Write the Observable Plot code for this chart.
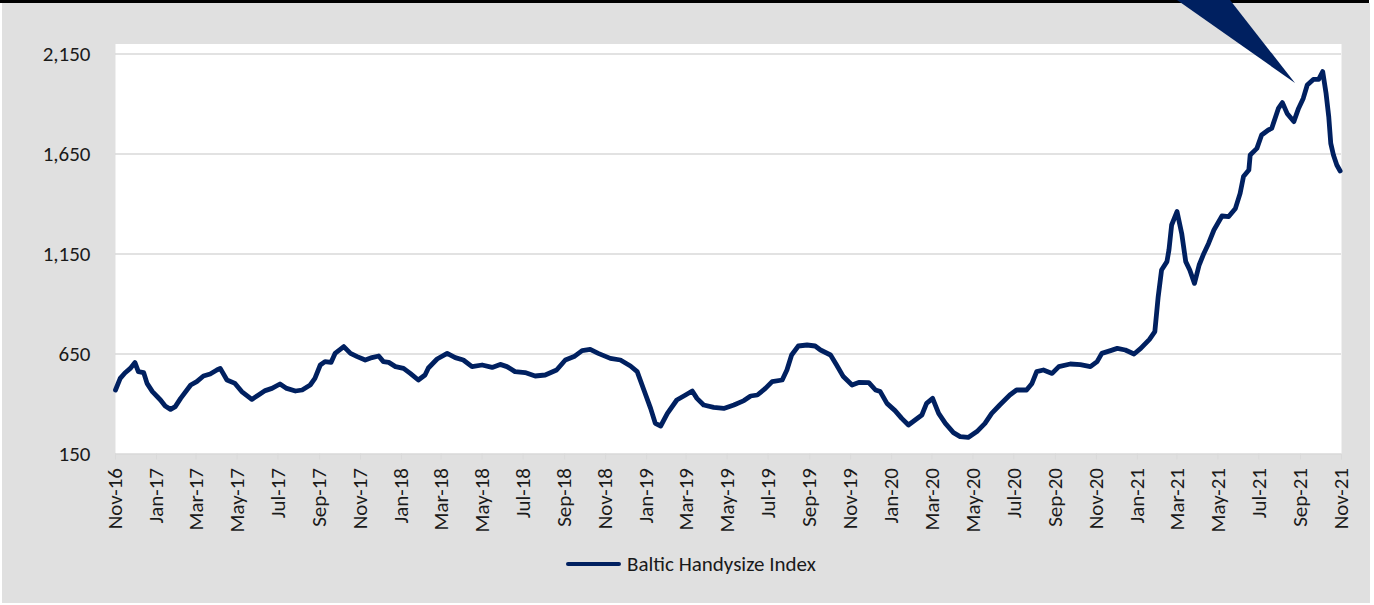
<!DOCTYPE html>
<html>
<head>
<meta charset="utf-8">
<script src="https://cdn.jsdelivr.net/npm/d3@7"></script>
<script src="https://cdn.jsdelivr.net/npm/@observablehq/plot@0.6"></script>
<style>
  html, body { margin: 0; padding: 0; background: #ffffff; }
  #wrap { position: relative; width: 1374px; height: 605px; overflow: hidden; font-family: Carlito, Calibri, Lato, sans-serif; }
  #bg { position: absolute; left: 2px; top: 3px; width: 1368px; height: 600px; background: #e0e0e0; }
  #topline { position: absolute; left: 0; top: 0; width: 1369px; height: 3px; background: #000; }
  #chart { position: absolute; left: 0; top: 0; }
  #callout { position: absolute; left: 0; top: 0; }
  #legend { position: absolute; left: 566px; top: 550px; height: 28px; display: flex; align-items: center; font-size: 21px; color: #1a1a1a; }
  #legend .sw { width: 55px; height: 4.5px; border-radius: 3px; background: #002060; margin-right: 6px; }
</style>
</head>
<body>
<div id="wrap">
  <div id="bg"></div>
  <div id="topline"></div>
  <div id="chart"></div>
  <svg id="callout" width="1374" height="120"><polygon points="1177,0 1230,0 1295,83" fill="#002060"></polygon></svg>
  <div id="legend"><div class="sw"></div><span>Baltic Handysize Index</span></div>
</div>
<script>
const seriesName = "Baltic Handysize Index";

const dates = [
"2016-11-01","2016-11-08","2016-11-15","2016-11-23","2016-11-30","2016-12-05","2016-12-13","2016-12-18","2016-12-26",
"2017-01-07","2017-01-14","2017-01-22","2017-01-29","2017-02-06","2017-02-21","2017-03-02","2017-03-12","2017-03-22",
"2017-04-01","2017-04-06","2017-04-16","2017-04-28","2017-05-08","2017-05-23","2017-06-02","2017-06-12","2017-06-22",
"2017-07-04","2017-07-14","2017-07-27","2017-08-06","2017-08-18","2017-08-25","2017-09-02","2017-09-09","2017-09-18",
"2017-09-24","2017-10-07","2017-10-17","2017-10-27","2017-11-08","2017-11-18","2017-11-28","2017-12-05","2017-12-13",
"2017-12-23","2018-01-04","2018-01-14","2018-01-26","2018-02-05","2018-02-10","2018-02-23","2018-03-10","2018-03-22",
"2018-04-03","2018-04-16","2018-05-01","2018-05-16","2018-05-28","2018-06-07","2018-06-19","2018-07-04","2018-07-19",
"2018-08-03","2018-08-20","2018-09-02","2018-09-15","2018-09-27","2018-10-09","2018-10-21","2018-11-08","2018-11-23",
"2018-12-08","2018-12-18","2018-12-28","2019-01-07","2019-01-14","2019-01-22","2019-02-01","2019-02-15","2019-02-28",
"2019-03-10","2019-03-17","2019-03-27","2019-04-11","2019-04-26","2019-05-11","2019-05-26","2019-06-05","2019-06-15",
"2019-06-27","2019-07-07","2019-07-22","2019-07-29","2019-08-05","2019-08-15","2019-08-28","2019-09-09","2019-09-17",
"2019-10-02","2019-10-11","2019-10-21","2019-11-03","2019-11-13","2019-11-28","2019-12-08","2019-12-15","2019-12-25",
"2020-01-06","2020-01-16","2020-01-26","2020-02-05","2020-02-15","2020-02-22","2020-03-02","2020-03-11","2020-03-21",
"2020-04-02","2020-04-12","2020-04-24","2020-05-07","2020-05-19","2020-05-29","2020-06-10","2020-06-25","2020-07-05",
"2020-07-20","2020-07-28","2020-08-04","2020-08-14","2020-08-27","2020-09-06","2020-09-23","2020-10-08","2020-10-23",
"2020-11-02","2020-11-09","2020-11-22","2020-12-02","2020-12-14","2020-12-27","2021-01-06","2021-01-19","2021-01-27",
"2021-02-01","2021-02-06","2021-02-14","2021-02-17","2021-02-21","2021-03-01","2021-03-08","2021-03-14","2021-03-20",
"2021-03-27","2021-04-03","2021-04-10","2021-04-17","2021-04-25","2021-05-07","2021-05-17","2021-05-27","2021-06-03",
"2021-06-08","2021-06-16","2021-06-18","2021-06-28","2021-07-05","2021-07-15","2021-07-20","2021-07-25","2021-07-30",
"2021-08-05","2021-08-12","2021-08-22","2021-08-29","2021-09-05","2021-09-11","2021-09-20","2021-09-28","2021-10-04",
"2021-10-09","2021-10-13","2021-10-16","2021-10-20","2021-10-25","2021-10-30"
];

const values = [
470,528,555,578,607,562,557,503,462,
420,390,373,387,428,495,512,540,550,
570,578,520,503,462,423,445,467,478,
500,478,465,470,495,528,595,612,608,
653,687,653,637,620,632,640,612,608,
587,578,553,520,545,580,625,653,632,
620,587,595,583,598,587,562,557,540,
545,570,620,637,667,673,653,628,620,
590,562,470,378,303,290,353,420,445,
465,428,395,383,378,395,417,440,445,
478,512,520,570,645,690,695,690,670,
645,595,537,495,508,507,470,462,403,
367,328,295,320,345,403,428,353,303,
257,237,233,262,303,353,395,445,470,
470,503,562,570,553,587,600,597,587,
612,653,667,678,670,650,678,723,762,
937,1070,1112,1170,1295,1362,1253,1112,1070,
1003,1095,1153,1203,1270,1340,1337,1378,1453,
1537,1570,1645,1678,1745,1770,1778,1828,1878,
1907,1853,1812,1878,1928,1995,2023,2023,2062,
1953,1837,1703,1645,1595,1565
];

const xTickLabels = [
"Nov-16","Jan-17","Mar-17","May-17","Jul-17","Sep-17","Nov-17","Jan-18","Mar-18","May-18","Jul-18","Sep-18",
"Nov-18","Jan-19","Mar-19","May-19","Jul-19","Sep-19","Nov-19","Jan-20","Mar-20","May-20","Jul-20","Sep-20",
"Nov-20","Jan-21","Mar-21","May-21","Jul-21","Sep-21","Nov-21"
];

const yTicks = [150, 650, 1150, 1650, 2150];

const parseDay = d3.utcParse("%Y-%m-%d");
const parseTick = d3.utcParse("%b-%y");
const data = dates.map((d, i) => ({date: parseDay(d), value: values[i]}));
const xTicks = xTickLabels.map(parseTick);

const chart = Plot.plot({
  width: 1374,
  height: 540,
  marginLeft: 115,
  marginRight: 33,
  marginTop: 43.5,
  marginBottom: 86.5,
  style: {background: "transparent", fontFamily: "Carlito, Calibri, Lato, sans-serif", fontSize: "21px", color: "#1a1a1a", overflow: "visible"},
  x: {type: "utc", domain: [xTicks[0], xTicks[xTicks.length - 1]]},
  y: {domain: [150, 2200]},
  marks: [
    Plot.frame({fill: "#ffffff", stroke: "none"}),
    Plot.ruleY(yTicks.slice(1), {stroke: "#d9d9d9", strokeWidth: 1.5}),
    Plot.ruleY([yTicks[0]], {stroke: "#d9d9d9", strokeWidth: 1.5}),
    Plot.axisY({ticks: yTicks, tickFormat: d3.format(","), tickSize: 0, tickPadding: 25, label: null, fontSize: 21}),
    Plot.axisX({ticks: xTicks, tickFormat: (d, i) => xTickLabels[i], tickRotate: -90, tickSize: 6, tickPadding: 8, stroke: "#d9d9d9", label: null, fontSize: 21}),
    Plot.lineY(data, {x: "date", y: "value", stroke: "#002060", strokeWidth: 4.8, strokeLinejoin: "round", strokeLinecap: "round"})
  ]
});
document.getElementById("chart").appendChild(chart);
</script>
</body>
</html>
